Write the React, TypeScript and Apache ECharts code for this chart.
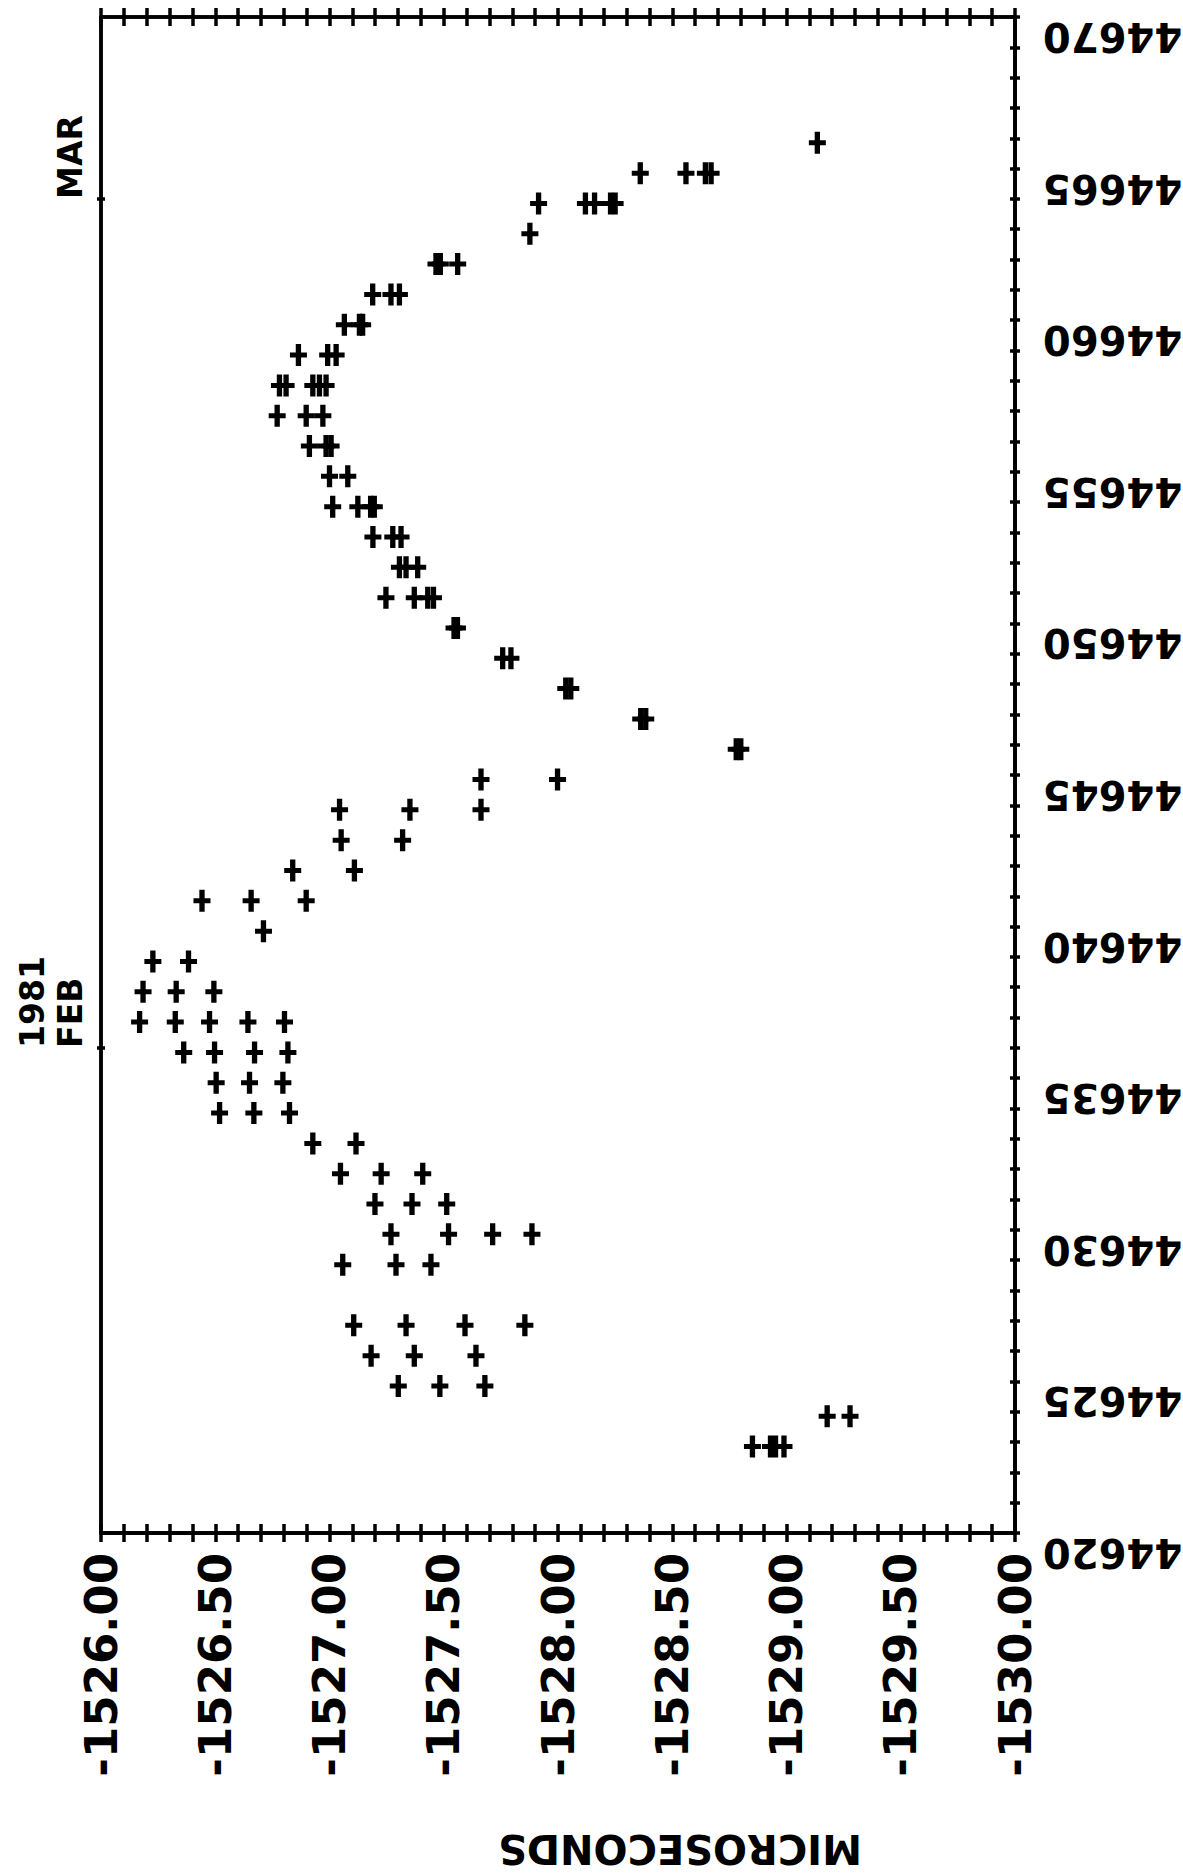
import React, { useEffect, useRef } from 'react';
import * as echarts from 'echarts';

// ---- data ----
const rowMJD = [
  44665.85, 44664.85, 44663.85, 44662.85, 44661.85, 44660.85, 44659.85, 44658.85,
  44657.85, 44656.85, 44655.85, 44654.85, 44653.85, 44652.85, 44651.85, 44650.85,
  44649.85, 44648.85, 44647.85, 44646.85, 44645.85, 44644.85, 44643.85, 44642.85,
  44641.85, 44640.85, 44639.85, 44638.85, 44637.85, 44636.85, 44635.85, 44634.85,
  44633.85, 44632.85, 44631.85, 44630.85, 44629.85, 44628.85, 44626.85, 44625.85,
  44624.85, 44623.85, 44622.85,
];
const rowMicroseconds = [
  [-1529.135],
  [-1528.36, -1528.56, -1528.645, -1528.67],
  [-1527.915, -1528.12, -1528.16, -1528.23, -1528.25],
  [-1527.877],
  [-1527.466, -1527.485, -1527.561],
  [-1527.189, -1527.269, -1527.306],
  [-1527.065, -1527.131, -1527.145],
  [-1526.864, -1526.992, -1527.029],
  [-1526.781, -1526.81, -1526.927, -1526.956, -1526.985],
  [-1526.771, -1526.898, -1526.971],
  [-1526.912, -1526.985, -1527.007],
  [-1527.0, -1527.08],
  [-1527.014, -1527.124, -1527.18, -1527.196],
  [-1527.19, -1527.277, -1527.313],
  [-1527.306, -1527.335, -1527.386],
  [-1527.247, -1527.371, -1527.43, -1527.455],
  [-1527.545, -1527.56],
  [-1527.758, -1527.794],
  [-1528.034, -1528.056],
  [-1528.362, -1528.384],
  [-1528.78, -1528.8],
  [-1527.663, -1527.998],
  [-1527.044, -1527.352, -1527.663],
  [-1527.051, -1527.32],
  [-1526.839, -1527.109],
  [-1526.442, -1526.657, -1526.898],
  [-1526.711],
  [-1526.227, -1526.383],
  [-1526.184, -1526.329, -1526.494],
  [-1526.169, -1526.325, -1526.475, -1526.643, -1526.803],
  [-1526.362, -1526.497, -1526.672, -1526.818],
  [-1526.504, -1526.65, -1526.796],
  [-1526.519, -1526.669, -1526.825],
  [-1526.927, -1527.116],
  [-1527.048, -1527.226, -1527.408],
  [-1527.199, -1527.361, -1527.513],
  [-1527.269, -1527.521, -1527.714, -1527.886],
  [-1527.058, -1527.291, -1527.444],
  [-1527.106, -1527.335, -1527.593, -1527.855],
  [-1527.182, -1527.371, -1527.641],
  [-1527.301, -1527.483, -1527.68],
  [-1529.178, -1529.278],
  [-1528.851, -1528.93, -1528.952, -1528.989],
];

const usecRange = [-1530, -1526];
const mjdRange = [44620, 44670];
const monthTickMJD = [44636, 44664];
const monthTickText = ['1981\nFEB', 'MAR'];
const axisTitle = 'MICROSECONDS';

const FONT = 'DejaVu Sans';
const BLACK = '#000';
const PLUS = 'path://M5.5,0H10.5V8.5H16V13.5H10.5V22H5.5V13.5H0V8.5H5.5Z';

export default function App() {
  const ref = useRef<HTMLDivElement>(null);

  useEffect(() => {
    if (!ref.current) return;
    const chart = echarts.init(ref.current, undefined, { renderer: 'svg' });

    const data: number[][] = [];
    rowMJD.forEach((d, i) => {
      rowMicroseconds[i].forEach((v) => data.push([v, d]));
    });

    const lineStyle = { color: BLACK, width: 3.5 };
    const baseX: any = {
      type: 'value',
      gridIndex: 0,
      min: usecRange[0],
      max: usecRange[1],
      inverse: true,
      splitLine: { show: false },
      axisLine: { show: true, onZero: false, lineStyle },
      axisLabel: { show: false },
      axisTick: { show: false },
    };
    const baseY: any = {
      type: 'value',
      gridIndex: 0,
      min: mjdRange[0],
      max: mjdRange[1],
      splitLine: { show: false },
      axisLine: { show: true, onZero: false, lineStyle },
      axisLabel: { show: false },
      axisTick: { show: false },
    };
    const tick = (inside: boolean, length: number, extra: any = {}) => ({
      show: true,
      inside,
      length,
      lineStyle,
      ...extra,
    });

    chart.setOption({
      animation: false,
      backgroundColor: '#fff',
      grid: {
        left: 101,
        right: 168,
        top: 17,
        bottom: 342,
        containLabel: false,
        outerBoundsMode: 'none',
      },
      xAxis: [
        {
          ...baseX,
          position: 'bottom',
          interval: 0.5,
          axisLabel: {
            show: true,
            rotate: 90,
            margin: 20,
            showMinLabel: true,
            showMaxLabel: true,
            formatter: (v: number) => v.toFixed(2),
            fontFamily: FONT,
            fontWeight: 'bold',
            fontSize: 45,
            color: BLACK,
          },
        },
        { ...baseX, position: 'bottom', interval: 0.1, axisTick: tick(false, 9) },
        { ...baseX, position: 'bottom', interval: 0.1, axisTick: tick(true, 9) },
        { ...baseX, position: 'top', interval: 0.1, axisTick: tick(false, 9) },
        { ...baseX, position: 'top', interval: 0.1, axisTick: tick(true, 9) },
      ],
      yAxis: [
        {
          ...baseY,
          position: 'right',
          interval: 5,
          axisLabel: {
            show: true,
            rotate: 180,
            margin: 28,
            verticalAlign: 'bottom',
            showMinLabel: true,
            showMaxLabel: true,
            formatter: (v: number) => String(Math.round(v)),
            fontFamily: FONT,
            fontWeight: 'bold',
            fontSize: 40,
            color: BLACK,
          },
        },
        { ...baseY, position: 'right', interval: 1, axisTick: tick(false, 5) },
        { ...baseY, position: 'right', interval: 1, axisTick: tick(true, 5) },
        {
          ...baseY,
          position: 'left',
          interval: 1,
          axisTick: tick(false, 4, { customValues: monthTickMJD }),
          axisLabel: {
            show: true,
            customValues: monthTickMJD,
            rotate: 90,
            align: 'left',
            margin: 12,
            lineHeight: 38,
            formatter: (v: number) => {
              const i = monthTickMJD.indexOf(Math.round(v));
              return i >= 0 ? monthTickText[i] : '';
            },
            fontFamily: FONT,
            fontWeight: 'bold',
            fontSize: 33,
            color: BLACK,
          },
        },
        {
          ...baseY,
          position: 'left',
          interval: 1,
          axisTick: tick(true, 4, { customValues: monthTickMJD }),
        },
      ],
      graphic: [
        {
          type: 'text',
          x: 680,
          y: 1849,
          rotation: Math.PI,
          style: {
            text: axisTitle,
            fontFamily: FONT,
            fontWeight: 'bold',
            fontSize: 40,
            fill: BLACK,
            align: 'center',
            verticalAlign: 'middle',
          },
        },
      ],
      series: [
        {
          type: 'scatter',
          xAxisIndex: 0,
          yAxisIndex: 0,
          symbol: PLUS,
          symbolSize: [17, 22],
          itemStyle: { color: BLACK, opacity: 1 },
          data,
        },
      ],
    });

    return () => chart.dispose();
  }, []);

  return (
    <div
      ref={ref}
      style={{ position: 'absolute', left: 0, top: 0, width: 1183, height: 1875, background: '#fff' }}
    />
  );
}
